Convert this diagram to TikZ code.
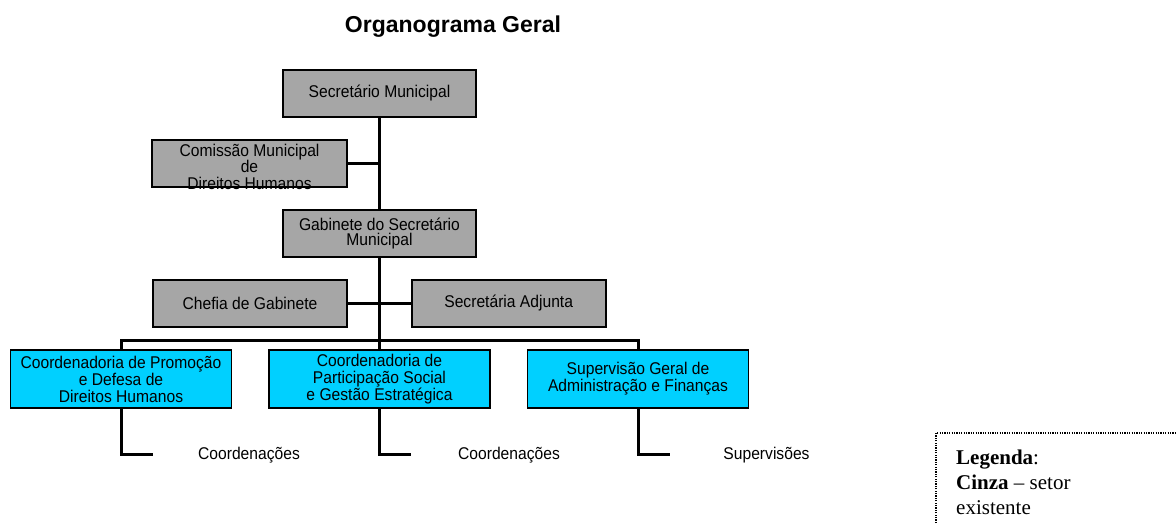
\documentclass[tikz,border=0pt]{standalone}
\usepackage{fontspec}
\setmainfont{Liberation Sans}[FakeStretch=0.92]
\newfontfamily\titlefont{Liberation Sans}
\newfontfamily\legendfont{Liberation Serif}
\definecolor{boxgray}{RGB}{166,166,166}
\definecolor{boxcyan}{RGB}{0,208,255}
\begin{document}
\begin{tikzpicture}[x=1pt,y=-1pt,
  every node/.style={inner sep=0pt, font=\fontsize{17}{16.5}\selectfont},
  orgbox/.style={draw=black, line width=1.8pt, minimum width=193pt, minimum height=47pt, align=center},
  graybox/.style={orgbox, fill=boxgray},
  cyanbox/.style={orgbox, fill=boxcyan, minimum width=221pt, minimum height=58pt},
  link/.style={line width=3pt},
  legendtext/.style={anchor=base west, font=\legendfont\fontsize{21}{25}\selectfont}
]
\useasboundingbox (0,0) rectangle (1176,524);

\node[font=\titlefont\bfseries\fontsize{23}{26}\selectfont] (title) at (453,27) {Organograma Geral};

% boxes
\node[graybox, font=\fontsize{17}{16.5}\selectfont] (sec) at (379.5,93.5) {Secretário Municipal};
\node[graybox, minimum width=195pt] (com) at (249.5,163.5) {};
\node[align=center, font=\fontsize{17}{16.5}\selectfont] (comtext) at (249.5,166.5) {Comissão Municipal\\de\\Direitos Humanos};
\node[graybox, font=\fontsize{17}{15.5}\selectfont] (gab) at (379.5,233.5) {Gabinete do Secretário\\Municipal};
\node[graybox, minimum width=194pt] (chef) at (250,303.5) {Chefia de Gabinete};
\node[graybox, minimum width=194pt] (adj) at (508.7,303.5) {Secretária Adjunta};

\node[cyanbox, font=\fontsize{17}{17}\selectfont] (c1) at (121,379) {Coordenadoria de Promoção\\e Defesa de\\Direitos Humanos};
\node[cyanbox, font=\fontsize{17}{17}\selectfont] (c2) at (379.5,379) {Coordenadoria de\\Participação Social\\e Gestão Estratégica};
\node[cyanbox, font=\fontsize{17}{15.6}\selectfont] (c3) at (638,379) {Supervisão Geral de\\Administração e Finanças};

% connectors
\draw[link] (sec.south) -- (gab.north);
\draw[link] (com.east) -- (com.east -| sec.south);
\draw[link] (chef.east) -- (adj.west);
\draw[link] (gab.south) -- (c2.north);
\coordinate (bus) at (379.5,340);
\draw[link] (c1.north) -- (c1.north |- bus) -- (c3.north |- bus) -- (c3.north);

\coordinate (e1) at (153,454);
\coordinate (e2) at (411.4,454);
\coordinate (e3) at (670,454);
\draw[link] (c1.south) -- (c1.south |- e1) -- (e1);
\draw[link] (c2.south) -- (c2.south |- e2) -- (e2);
\draw[link] (c3.south) -- (c3.south |- e3) -- (e3);

\node (t1) at (249,455) {Coordenações};
\node (t2) at (509,455) {Coordenações};
\node (t3) at (766.5,455) {Supervisões};

% legend
\begin{scope}
\clip (0,0) rectangle (1176,524);
\draw[line width=1.2pt, dash pattern=on 1.2pt off 1.2pt] (936,535) -- (936,433) -- (1190,433);
\end{scope}
\node[legendtext] (leg1) at (956,464) {\textbf{Legenda}:};
\node[legendtext] (leg2) at (956,489) {\textbf{Cinza} – setor};
\node[legendtext] (leg3) at (956,514) {existente};
\end{tikzpicture}
\end{document}
